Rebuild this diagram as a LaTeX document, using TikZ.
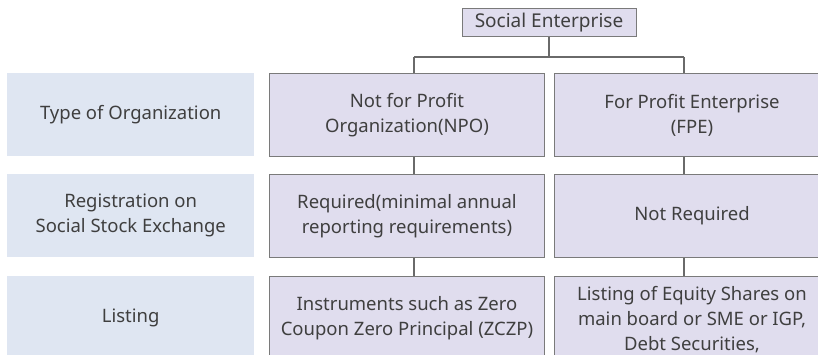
\documentclass[tikz,border=0pt]{standalone}
\usepackage{fontspec}
\setmainfont{Noto Sans}
\definecolor{lblfill}{HTML}{DFE6F2}
\definecolor{boxfill}{HTML}{E0DDEE}
\definecolor{boxline}{HTML}{7A7A7A}
\definecolor{txt}{HTML}{3F3F3F}
\definecolor{conn}{HTML}{6A6A6A}
\tikzset{
  lbl/.style={fill=lblfill, draw=none, minimum width=247pt, minimum height=83pt, align=center, text=txt, font=\fontsize{18.5}{25}\selectfont, inner sep=0pt, anchor=north west},
  cell/.style={fill=boxfill, draw=boxline, line width=1pt, minimum width=275pt, minimum height=83pt, align=center, text=txt, font=\fontsize{18.5}{25}\selectfont, inner sep=0pt, anchor=north west},
  topbox/.style={fill=boxfill, draw=boxline, line width=1pt, minimum width=174pt, minimum height=28pt, text=txt, font=\fontsize{19}{22}\selectfont, inner sep=0pt},
  connector/.style={draw=conn, line width=1.6pt}
}
\begin{document}
\begin{tikzpicture}[x=1pt,y=-1pt]
\useasboundingbox (0,0) rectangle (818,355);
\clip (0,0) rectangle (818,355);
\node[topbox] (top) at (549,23) {Social Enterprise};
\node[lbl] (l1) at (7,73) {Type of Organization};
\node[lbl] (l2) at (7,174) {Registration on\\Social Stock Exchange};
\node[lbl] (l3) at (7,276) {Listing};
\node[cell] (n1) at (269,73) {Not for Profit\\Organization(NPO)};
\node[cell] (n2) at (269,174) {Required(minimal annual\\reporting requirements)};
\node[cell] (n3) at (269,276) {Instruments such as Zero\\Coupon Zero Principal (ZCZP)};
\node[cell] (f1) at (554,73) {For Profit Enterprise\\(FPE)};
\node[cell] (f2) at (554,174) {Not Required};
\node[cell, minimum height=108pt] (f3) at (554,276) {Listing of Equity Shares on\\main board or SME or IGP,\\Debt Securities,\\\mbox{}};
\coordinate (bus) at (549,57);
\coordinate (cl) at (414,0);
\coordinate (cr) at (684,0);
\draw[connector] (top.south) -- (bus);
\draw[connector] (cl |- bus) -- (cr |- bus);
\draw[connector] (cl |- bus) -- (cl |- n1.north);
\draw[connector] (cr |- bus) -- (cr |- f1.north);
\draw[connector] (cl |- n1.south) -- (cl |- n2.north);
\draw[connector] (cr |- f1.south) -- (cr |- f2.north);
\draw[connector] (cl |- n2.south) -- (cl |- n3.north);
\draw[connector] (cr |- f2.south) -- (cr |- f3.north);
\end{tikzpicture}
\end{document}
